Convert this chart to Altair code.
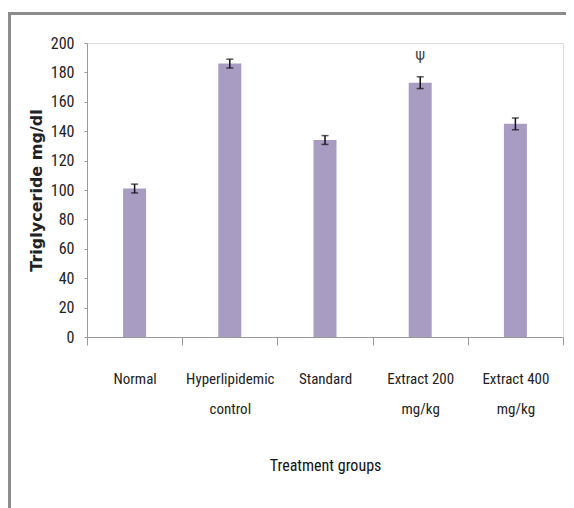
import altair as alt
import pandas as pd

groups = ["Normal", "Hyperlipidemic control", "Standard", "Extract 200 mg/kg", "Extract 400 mg/kg"]
labels = ["Normal", "Hyperlipidemic|control", "Standard", "Extract 200|mg/kg", "Extract 400|mg/kg"]
means = [101, 186, 134, 173, 145]
errors = [3, 3, 3, 4, 4]
marks = ["", "", "", "ψ", ""]
yticks = [0, 20, 40, 60, 80, 100, 120, 140, 160, 180, 200]

df = pd.DataFrame({
    "group": labels,
    "mean": means,
    "lo": [m - e for m, e in zip(means, errors)],
    "hi": [m + e for m, e in zip(means, errors)],
    "mark": marks,
    "markY": [m + e + 15 for m, e in zip(means, errors)],
})

narrow = "Liberation Sans Narrow, Arial Narrow, Roboto Condensed, Liberation Sans"
yscale = alt.Scale(domain=[0, 200], nice=False)

x = alt.X("group:N", sort=labels, title="Treatment groups",
          scale=alt.Scale(paddingInner=0, paddingOuter=0),
          axis=alt.Axis(labelExpr="split(datum.label, '|')", labelAngle=0,
                        labelFont=narrow, labelFontSize=15, labelColor="#222",
                        labelLineHeight=30, labelPadding=26, tickSize=8,
                        tickBand="extent", tickColor="#999", domainColor="#999",
                        titleFont=narrow, titleFontSize=16, titleFontWeight="normal",
                        titleColor="#111", titleY=128, titleBaseline="middle"))

y = alt.Y("mean:Q", title="Triglyceride mg/dl", scale=yscale,
          axis=alt.Axis(values=yticks, grid=False,
                        labelOverlap=False,
                        labelFont=narrow, labelFontSize=16, labelColor="#222",
                        labelPadding=10, tickSize=3, tickColor="#999",
                        domainColor="#999",
                        titleFont="DejaVu Sans", titleFontSize=16,
                        titleFontWeight="bold", titleColor="#222",
                        titleX=-51, titleBaseline="middle"))

xs = alt.X("group:N", sort=labels, axis=None)

bars = alt.Chart(df).mark_bar(size=23, color="#A89CC3").encode(x=x, y=y)
err = alt.Chart(df).mark_rule(color="#111", strokeWidth=1.5).encode(
    x=xs, y=alt.Y("lo:Q", axis=None), y2="hi:Q")
capHi = alt.Chart(df).mark_tick(color="#111", size=7, thickness=1.5, orient="horizontal").encode(
    x=xs, y=alt.Y("hi:Q", axis=None))
capLo = alt.Chart(df).mark_tick(color="#111", size=7, thickness=1.5, orient="horizontal").encode(
    x=xs, y=alt.Y("lo:Q", axis=None))
psi = alt.Chart(df).mark_text(fontSize=15, color="#444", font="DejaVu Sans").encode(
    x=xs, y=alt.Y("markY:Q", axis=None), text="mark:N")

frame_top = alt.Chart(df).mark_rule(color="#8a8a8a", strokeWidth=2).encode(
    x=alt.value(-79), x2=alt.value(487), y=alt.value(-29.5))
frame_left = alt.Chart(df).mark_rule(color="#8a8a8a", strokeWidth=2).encode(
    x=alt.value(-77.5), y=alt.value(-30), y2=alt.value(480))

chart = alt.layer(bars, err, capHi, capLo, psi, frame_top, frame_left).resolve_axis(
    x="independent", y="independent"
).resolve_scale(x="shared", y="shared").properties(
    width=476, height=294,
    padding={"left": 79, "top": 35, "right": 3, "bottom": 175},
    autosize=alt.AutoSizeParams(type="none"),
).configure_view(stroke=None).configure(background="white")

chart.save("out.html", embed_options={"renderer": "svg", "actions": False})
